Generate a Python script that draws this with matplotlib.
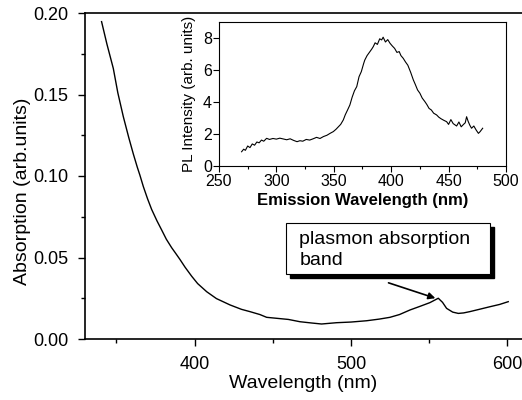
import matplotlib
matplotlib.use("Agg")
import matplotlib.pyplot as plt
from matplotlib.patches import Rectangle
from matplotlib.ticker import MultipleLocator, FormatStrFormatter

plt.rcParams['font.family'] = ['Liberation Sans', 'DejaVu Sans']

# Main absorption spectrum
abs_wl = [340.6, 344, 348.1, 351, 354.5, 358, 360.9, 363.4, 365.1, 367.3, 370, 372.6,
          376, 379, 382, 385.4, 388, 390.7, 394, 398.2, 402, 407.8, 414, 422.7, 430,
          435.4, 441.8, 446.1, 452.5, 460, 467.4, 475, 481.2, 490.8, 500, 510, 518,
          524.9, 531, 537.7, 544, 550.4, 555.8, 558.5, 561.1, 565, 568.6, 572, 576,
          582, 588.8, 595, 600.5]
abs_val = [0.1947, 0.181, 0.166, 0.151, 0.1364, 0.1235, 0.1135, 0.1055, 0.1005, 0.0935, 0.0860, 0.0795,
           0.0725, 0.0669, 0.0612, 0.0560, 0.0525, 0.0488, 0.0440, 0.0385, 0.0340, 0.0290, 0.0248, 0.0209, 0.0182,
           0.0168, 0.0150, 0.0133, 0.0127, 0.0120, 0.0106, 0.0098, 0.0092, 0.0100, 0.0104, 0.0112, 0.0122,
           0.0133, 0.0150, 0.0178, 0.0200, 0.0223, 0.0250, 0.0225, 0.0188, 0.0165, 0.0157, 0.0160, 0.0168,
           0.0182, 0.0198, 0.0212, 0.0229]

# Inset PL spectrum
pl_wl = [269.7, 271.5, 273, 275, 277, 279, 281, 283, 285, 287, 289, 291.5, 294, 297, 300, 303,
         306, 309, 312, 315, 318, 320.5, 323, 326, 329, 332, 335, 338, 341, 344, 347, 349.6,
         352, 354, 356, 358.3, 360, 362, 364, 366, 368, 370, 372, 374, 376, 377, 379, 381,
         383, 384.4, 386, 388, 390, 391.7, 393, 395, 397, 399, 401, 403, 405, 407, 408.5,
         410.5, 412.5, 414.5, 417, 419.3, 421, 423, 425, 427, 429.4, 431, 433, 435, 437,
         439.6, 441.5, 443.5, 446, 448.3, 450, 452, 454, 457, 459, 461, 463, 464.5, 465.7,
         467, 468.5, 470, 472, 474, 476, 477.5, 479.7]
pl_val = [0.89, 1.05, 0.98, 1.25, 1.15, 1.38, 1.30, 1.50, 1.45, 1.62, 1.55, 1.73, 1.66, 1.72, 1.68, 1.74,
          1.69, 1.64, 1.70, 1.60, 1.52, 1.58, 1.55, 1.66, 1.62, 1.70, 1.79, 1.72, 1.84, 1.92, 2.05, 2.15,
          2.30, 2.45, 2.60, 2.88, 3.20, 3.50, 3.81, 4.30, 4.70, 4.96, 5.58, 5.90, 6.40, 6.62, 6.90, 7.10,
          7.30, 7.46, 7.70, 7.60, 7.95, 7.88, 8.05, 7.75, 7.90, 7.67, 7.50, 7.35, 7.10, 7.15, 6.90,
          6.73, 6.50, 6.30, 5.85, 5.38, 5.10, 4.75, 4.55, 4.25, 4.02, 3.85, 3.60, 3.50, 3.30,
          3.19, 3.05, 2.95, 2.85, 2.77, 2.60, 2.90, 2.65, 2.50, 2.75, 2.45, 2.60, 2.70, 3.08,
          2.80, 2.55, 2.36, 2.50, 2.25, 2.04, 2.15, 2.36]

fig = plt.figure(figsize=(5.22, 4.0), dpi=100)
ax = fig.add_axes([0.1628, 0.1525, 0.8372, 0.815])
ax.plot(abs_wl, abs_val, color='black', lw=1.0)
ax.set_xlim(330, 609.3)
ax.set_ylim(0, 0.20)
ax.spines['right'].set_visible(False)
for s in ax.spines.values():
    s.set_linewidth(1.2)
ax.xaxis.set_major_locator(MultipleLocator(100))
ax.xaxis.set_minor_locator(MultipleLocator(50))
ax.yaxis.set_major_locator(MultipleLocator(0.05))
ax.yaxis.set_minor_locator(MultipleLocator(0.025))
ax.yaxis.set_major_formatter(FormatStrFormatter('%.2f'))
ax.tick_params(which='both', direction='out', labelsize=13, width=1.0)
ax.tick_params(which='major', length=5, pad=7)
ax.tick_params(which='minor', length=3)
ax.tick_params(axis='y', right=False)
ax.set_xlabel('Wavelength (nm)', fontsize=14)
ax.set_ylabel('Absorption (arb.units)', fontsize=14)
ax.xaxis.set_label_coords(0.5, -0.11)
ax.yaxis.set_label_coords(-0.124, 0.454)

# annotation box with shadow
bx, by, bw, bh = 458.4, 0.0399, 130.4, 0.0313
ax.add_patch(Rectangle((bx + 2.6, by - 0.0025), bw, bh, facecolor='black', edgecolor='black', zorder=4))
ax.add_patch(Rectangle((bx, by), bw, bh, facecolor='white', edgecolor='black', lw=0.8, zorder=5))
ax.text(bx + 8.5, by + bh - 0.0052, 'plasmon absorption\nband', ha='left', va='top',
        fontsize=14, linespacing=1.25, zorder=6)
ax.annotate('', xy=(555.6, 0.0245), xytext=(522.3, 0.035),
            arrowprops=dict(arrowstyle='-|>', color='black', lw=1.2, mutation_scale=10), zorder=6)

# inset
ins = fig.add_axes([0.4195, 0.585, 0.5498, 0.36])
ins.plot(pl_wl, pl_val, color='black', lw=0.8)
ins.set_xlim(250, 500)
ins.set_ylim(0, 9)
ins.xaxis.set_major_locator(MultipleLocator(50))
ins.xaxis.set_minor_locator(MultipleLocator(25))
ins.yaxis.set_major_locator(MultipleLocator(2))
ins.tick_params(which='both', direction='out', labelsize=11.5, width=0.8)
ins.tick_params(axis='x', pad=2)
ins.tick_params(axis='y', pad=1)
ins.tick_params(which='major', length=4)
ins.tick_params(which='minor', length=2)
ins.set_xlabel('Emission Wavelength (nm)', fontsize=12, fontweight='bold')
ins.set_ylabel('PL Intensity (arb. units)', fontsize=11)
ins.xaxis.set_label_coords(0.5, -0.19)
ins.yaxis.set_label_coords(-0.08, 0.5)

fig.savefig('out.png', dpi=100)
